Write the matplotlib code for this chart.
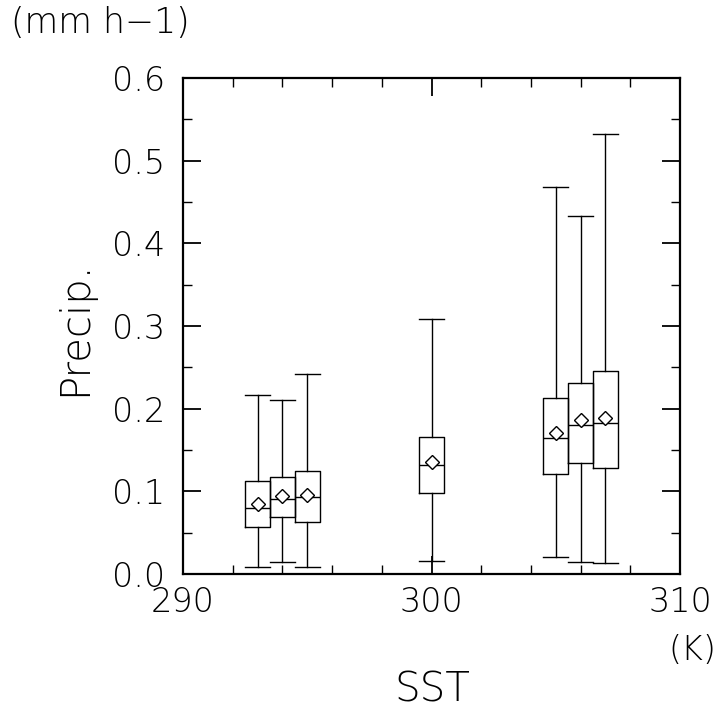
import matplotlib
matplotlib.use("Agg")
import matplotlib.pyplot as plt
from matplotlib.ticker import MultipleLocator

# Data
sst = [293, 294, 295, 300, 305, 306, 307]
whisker_low = [0.008, 0.015, 0.008, 0.016, 0.021, 0.014, 0.013]
q1 = [0.057, 0.069, 0.063, 0.098, 0.121, 0.134, 0.128]
median = [0.080, 0.091, 0.093, 0.132, 0.165, 0.180, 0.183]
q3 = [0.112, 0.117, 0.124, 0.166, 0.213, 0.231, 0.246]
whisker_high = [0.216, 0.211, 0.242, 0.308, 0.468, 0.433, 0.532]
mean = [0.085, 0.094, 0.096, 0.136, 0.171, 0.186, 0.189]

x_ticks = [290, 300, 310]
y_ticks = [0.0, 0.1, 0.2, 0.3, 0.4, 0.5, 0.6]

plt.rcParams['font.family'] = ['DejaVu Sans']
plt.rcParams['font.weight'] = 'light'

fig = plt.figure(figsize=(7.18, 7.2), dpi=100)
ax = fig.add_axes([183/718, 1 - 574/720, (680-183)/718, (574-78)/720])

stats = []
for i in range(len(sst)):
    stats.append(dict(whislo=whisker_low[i], q1=q1[i], med=median[i],
                      q3=q3[i], whishi=whisker_high[i], mean=mean[i], fliers=[]))

lp = dict(color='black', linewidth=1.0)
ax.bxp(stats, positions=sst, widths=1.0, capwidths=1.0, showmeans=True,
       showfliers=False, manage_ticks=False,
       boxprops=lp, whiskerprops=lp, capprops=lp, medianprops=lp,
       meanprops=dict(marker='D', markerfacecolor='white',
                      markeredgecolor='black', markersize=7, markeredgewidth=1.0))

ax.set_xlim(290, 310)
ax.set_ylim(0, 0.6)
ax.set_xticks(x_ticks)
ax.set_yticks(y_ticks)
ax.set_xticklabels([str(v) for v in x_ticks])
ax.set_yticklabels([f"{v:.1f}" for v in y_ticks])
ax.xaxis.set_minor_locator(MultipleLocator(2))
ax.yaxis.set_minor_locator(MultipleLocator(0.05))

ax.tick_params(which='both', direction='in', top=True, right=True,
               labelsize=24, color='black')
ax.tick_params(which='major', length=13, width=1.3)
ax.tick_params(which='minor', length=6.5, width=1.0)
ax.tick_params(axis='x', which='major', pad=9)
ax.tick_params(axis='y', which='major', pad=13)
for s in ax.spines.values():
    s.set_linewidth(1.6)

fig.text(75/718, 1 - 328/720, 'Precip.', fontsize=29, rotation=90,
         ha='center', va='center')
fig.text(432/718, 1 - 690/720, 'SST', fontsize=29, ha='center', va='center')
fig.text(11/718, 1 - 23/720, '(mm h\u22121)', fontsize=25, ha='left', va='center')
fig.text(716/718, 1 - 650/720, '(K)', fontsize=24, ha='right', va='center')

fig.savefig('out.png', dpi=100)
